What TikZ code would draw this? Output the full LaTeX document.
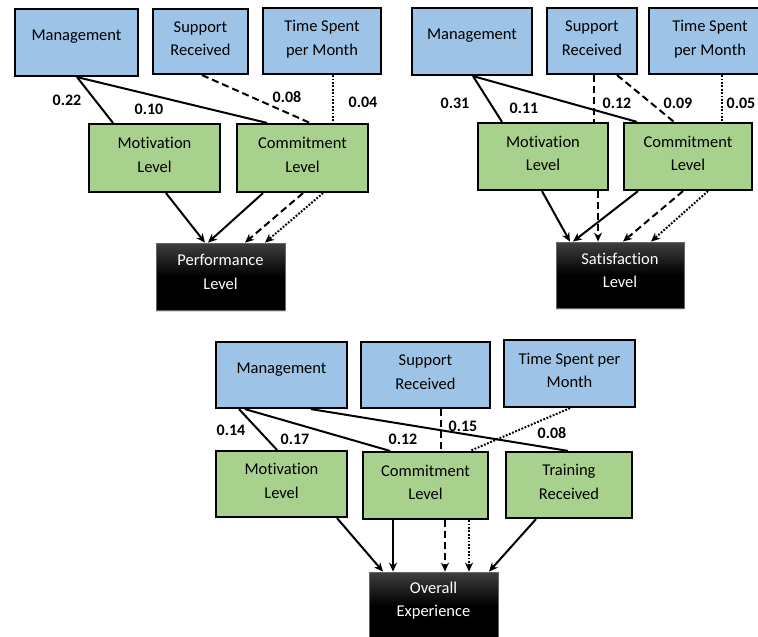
\documentclass[tikz,border=0pt]{standalone}
\usepackage{fontspec}
\setmainfont{Carlito}[Ligatures=NoCommon]
\usetikzlibrary{arrows.meta,shadows}

\definecolor{boxblue}{HTML}{9DC3E6}
\definecolor{boxgreen}{HTML}{A9D18E}

\begin{document}
\begin{tikzpicture}[x=1pt, y=-1pt,
    box/.style={draw, line width=2.2pt, align=center, inner sep=0pt, text depth=6pt,
        font=\fontsize{16.5}{23.5}\selectfont},
    inbox/.style={box, fill=boxblue},
    midbox/.style={box, fill=boxgreen},
    mgmt/.style={inbox, text depth=14pt},
    outbox/.style={draw=black!60, line width=0.8pt, top color=black!75,
        bottom color=black, middle color=black, text=white, align=center,
        inner sep=0pt, text depth=9pt, font=\fontsize{16.5}{23.5}\selectfont,
        drop shadow={shadow xshift=0pt, shadow yshift=-2pt, opacity=0.3}},
    link/.style={line width=2pt},
    dlink/.style={link, dash pattern=on 7pt off 4pt},
    olink/.style={link, dash pattern=on 1.8pt off 1.6pt},
    arr/.style={-{Stealth[length=9pt,width=8pt]}},
    wt/.style={font=\bfseries\fontsize{16}{18}\selectfont}
]
    \useasboundingbox (0,0) rectangle (758,637);
    \clip (0,0) rectangle (758,637);

    % Performance model (top left)
    \node[mgmt, minimum width=123pt, minimum height=67pt] (mgmtA) at (76.5,42.5) {Management};
    \node[inbox, minimum width=95pt, minimum height=65pt] (suppA) at (200.5,41.5) {Support\\Received};
    \node[inbox, minimum width=118pt, minimum height=66pt] (timeA) at (322,41) {Time Spent\\per Month};
    \node[midbox, minimum width=131pt, minimum height=68pt] (motA) at (154.5,158) {Motivation\\Level};
    \node[midbox, minimum width=131pt, minimum height=68pt] (comA) at (302.5,158) {Commitment\\Level};
    \node[outbox, minimum width=129pt, minimum height=67pt] (perf) at (220.5,276.5) {Performance\\Level};

    \draw[link] ([xshift=0.5pt]mgmtA.south) -- ([xshift=-41.5pt]motA.north);
    \draw[link] ([xshift=0.5pt]mgmtA.south) -- ([xshift=-35.5pt]comA.north);
    \draw[dlink] ([xshift=1.5pt]suppA.south) -- ([xshift=7.5pt]comA.north);
    \draw[olink] ([xshift=11pt]timeA.south) -- ([xshift=30.5pt]comA.north);
    \draw[link, arr] ([xshift=11.5pt]motA.south) -- ([xshift=-15.5pt]perf.north);
    \draw[link, arr] ([xshift=-39.5pt]comA.south) -- ([xshift=-12.5pt]perf.north);
    \draw[dlink, arr] ([xshift=0.5pt]comA.south) -- ([xshift=24.5pt]perf.north);
    \draw[olink, arr] ([xshift=20.5pt]comA.south) -- ([xshift=44.5pt]perf.north);

    \node[wt] (wA1) at (67,100) {0.22};
    \node[wt] (wA2) at (149,109) {0.10};
    \node[wt] (wA3) at (287,97) {0.08};
    \node[wt] (wA4) at (363,102) {0.04};

    % Satisfaction model (top right)
    \node[mgmt, minimum width=120pt, minimum height=67pt] (mgmtB) at (472,41.5) {Management};
    \node[inbox, minimum width=90pt, minimum height=66pt] (suppB) at (592,41) {Support\\Received};
    \node[inbox, minimum width=122pt, minimum height=66pt] (timeB) at (710,41) {Time Spent\\per Month};
    \node[midbox, minimum width=130pt, minimum height=67pt] (motB) at (543,156.5) {Motivation\\Level};
    \node[midbox, minimum width=128pt, minimum height=67pt] (comB) at (688,156.5) {Commitment\\Level};
    \node[outbox, minimum width=128pt, minimum height=66pt] (sat) at (620,275) {Satisfaction\\Level};

    \draw[link] ([xshift=1pt]mgmtB.south) -- ([xshift=-41pt]motB.north);
    \draw[link] ([xshift=1pt]mgmtB.south) -- ([xshift=-51pt]comB.north);
    \draw[dlink] ([xshift=2pt]suppB.south) -- ([xshift=51pt]motB.north);
    \draw[dlink] ([xshift=25pt]suppB.south) -- ([xshift=-14pt]comB.north);
    \draw[olink] ([xshift=12pt]timeB.south) -- ([xshift=34pt]comB.north);
    \draw[link, arr] ([xshift=-1pt]motB.south) -- ([xshift=-50pt]sat.north);
    \draw[dlink, arr] ([xshift=55pt]motB.south) -- ([xshift=-22pt]sat.north);
    \draw[link, arr] ([xshift=-50pt]comB.south) -- ([xshift=-47pt]sat.north);
    \draw[dlink, arr] ([xshift=-5pt]comB.south) -- ([xshift=3pt]sat.north);
    \draw[olink, arr] ([xshift=20pt]comB.south) -- ([xshift=31pt]sat.north);

    \node[wt] (wB1) at (455,103) {0.31};
    \node[wt] (wB2) at (524,108) {0.11};
    \node[wt] (wB3) at (617,103) {0.12};
    \node[wt] (wB4) at (678,103) {0.09};
    \node[wt] (wB5) at (741,103) {0.05};

    % Overall experience model (bottom)
    \node[mgmt, minimum width=131pt, minimum height=66pt] (mgmtC) at (281.5,375) {Management};
    \node[inbox, minimum width=129pt, minimum height=66pt] (suppC) at (425.5,375) {Support\\Received};
    \node[inbox, minimum width=131pt, minimum height=67pt] (timeC) at (569.5,373.5) {Time Spent per\\Month};
    \node[midbox, minimum width=131pt, minimum height=66pt] (motC) at (281.5,484) {Motivation\\Level};
    \node[midbox, minimum width=125pt, minimum height=67pt] (comC) at (425.5,485.5) {Commitment\\Level};
    \node[midbox, minimum width=126pt, minimum height=66pt] (trainC) at (569,485) {Training\\Received};
    \node[outbox, minimum width=129pt, minimum height=67pt, text depth=12pt] (over) at (433.5,605.5) {Overall\\Experience};

    \draw[link] ([xshift=-42.5pt]mgmtC.south) -- ([xshift=-4.5pt]motC.north);
    \draw[link] ([xshift=-36.5pt]mgmtC.south) -- ([xshift=-35.5pt]comC.north);
    \draw[link] ([xshift=29.5pt]mgmtC.south) -- ([xshift=-1pt]trainC.north);
    \draw[dlink] ([xshift=15.5pt]suppC.south) -- ([xshift=15.5pt]comC.north);
    \draw[olink] ([xshift=0.5pt]timeC.south) -- ([xshift=44.5pt]comC.north);
    \draw[link, arr] ([xshift=55.5pt]motC.south) -- ([xshift=-50.5pt]over.north);
    \draw[link, arr] ([xshift=-32.5pt]comC.south) -- ([xshift=-40.5pt]over.north);
    \draw[dlink, arr] ([xshift=19.5pt]comC.south) -- ([xshift=11.5pt]over.north);
    \draw[olink, arr] ([xshift=43.5pt]comC.south) -- ([xshift=35.5pt]over.north);
    \draw[link, arr] ([xshift=-33pt]trainC.south) -- ([xshift=55.5pt]over.north);

    \node[wt] (wC1) at (231,430) {0.14};
    \node[wt] (wC2) at (295,439) {0.17};
    \node[wt] (wC3) at (403,439) {0.12};
    \node[wt] (wC4) at (463,426) {0.15};
    \node[wt] (wC5) at (552,433) {0.08};
\end{tikzpicture}
\end{document}
